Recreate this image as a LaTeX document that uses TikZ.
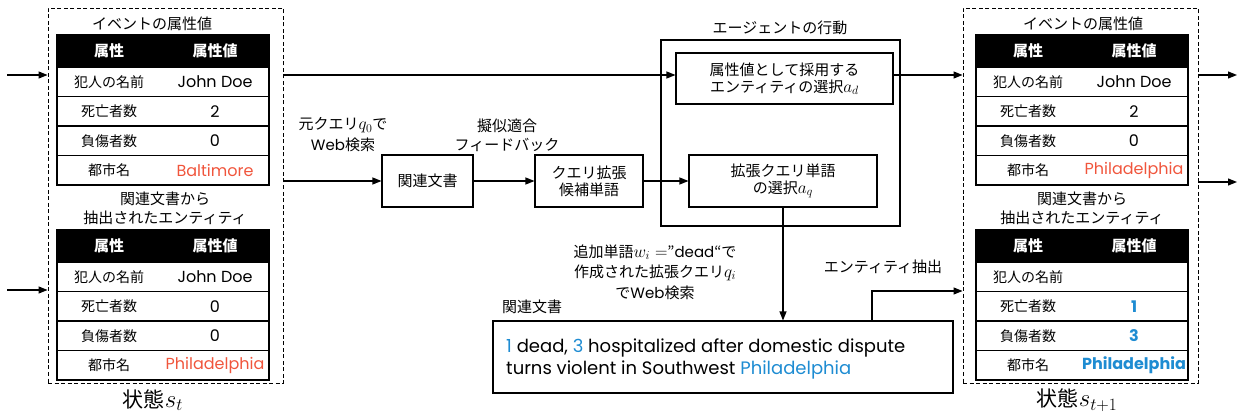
\documentclass[tikz,border=0pt]{standalone}
\usepackage{fontspec}
\setmainfont{Noto Sans CJK JP}
\newfontfamily\lat{Poppins}
\usetikzlibrary{arrows.meta}
\definecolor{vred}{RGB}{240,85,60}
\definecolor{vblue}{RGB}{30,140,210}
\newcommand\fsz[1]{\fontsize{#1}{#1}\selectfont}
\newcommand\mth[1]{{\fontsize{18}{18}\selectfont$#1$}}
\newcommand\mktab[7]{%
 \begin{scope}[shift={(#2,#3)}]
  \node[thead] (#1h) at (106,16) {};
  \node[htxt] (#1hk) at (52,16) {属性};
  \node[htxt] (#1hv) at (158,16) {属性値};
  \node[trow] (#1a) at (106,46.75) {};
  \node[trow] (#1b) at (106,76.25) {};
  \node[trow] (#1c) at (106,105.75) {};
  \node[trow] (#1d) at (106,135.25) {};
  \node[ttxt] (#1ak) at (52,46.75) {犯人の名前};
  \node[ttxt] (#1bk) at (52,76.25) {死亡者数};
  \node[ttxt] (#1ck) at (52,105.75) {負傷者数};
  \node[ttxt] (#1dk) at (52,135.25) {都市名};
  \node[vtxt] (#1av) at (158,46.75) {#4};
  \node[vtxt] (#1bv) at (158,76.25) {#5};
  \node[vtxt] (#1cv) at (158,105.75) {#6};
  \node[vtxt] (#1dv) at (158,135.25) {#7};
 \end{scope}}
\begin{document}
\begin{tikzpicture}[x=1pt,y=-1pt,
  thead/.style={draw=black,fill=black,line width=1.2pt,minimum width=212pt,minimum height=32pt,inner sep=0},
  trow/.style={draw=black,line width=1.2pt,minimum width=212pt,minimum height=29.5pt,inner sep=0},
  htxt/.style={text=white,font=\fsz{15}\bfseries,inner sep=0},
  ttxt/.style={font=\fsz{14},inner sep=0},
  vtxt/.style={font=\fsz{16}\lat,inner sep=0},
  lbl/.style={font=\fsz{15},align=center,inner sep=0},
  box/.style={draw,line width=1.1pt,inner sep=0,align=center,font=\fsz{15}},
  dbox/.style={draw,line width=0.9pt,dash pattern=on 4pt off 2.5pt,inner sep=0},
  arr/.style={-{Triangle[length=9pt,width=7pt]},line width=1.1pt}]
\useasboundingbox (0,0) rectangle (1242,414);
% state boxes
\node[dbox,minimum width=235pt,minimum height=375pt] (lbox) at (165.5,195.5) {};
\node[dbox,minimum width=235pt,minimum height=375pt] (rbox) at (1080.5,195.5) {};
\node[lbl] (lt1) at (152,24) {イベントの属性値};
\node[lbl] (rt1) at (1083,24) {イベントの属性値};
\node[lbl] (lt2) at (165,208) {関連文書から\\[4pt]抽出されたエンティティ};
\node[lbl] (rt2) at (1082,208) {関連文書から\\[4pt]抽出されたエンティティ};
\mktab{lta}{57}{35}{John Doe}{2}{0}{\textcolor{vred}{Baltimore}}
\mktab{ltb}{57}{230}{John Doe}{0}{0}{\textcolor{vred}{Philadelphia}}
\mktab{rta}{976}{35}{John Doe}{2}{0}{\textcolor{vred}{Philadelphia}}
\mktab{rtb}{976}{230}{}{\textcolor{vblue}{\bfseries 1}}{\textcolor{vblue}{\bfseries 3}}{\textcolor{vblue}{\bfseries Philadelphia}}
\node[font=\fsz{21},inner sep=0] (ls) at (153,400) {状態{\fontsize{24}{24}\selectfont$s_t$}};
\node[font=\fsz{21},inner sep=0] (rs) at (1077,400) {状態{\fontsize{24}{24}\selectfont$s_{t+1}$}};
% middle boxes
\node[box,minimum width=91pt,minimum height=52pt] (rel) at (427.5,181) {関連文書};
\node[box,minimum width=108pt,minimum height=52pt] (cand) at (589,181) {クエリ拡張\\[2pt]候補単語};
\node[draw,line width=1.1pt,minimum width=239pt,minimum height=186pt,inner sep=0] (agent) at (780.5,133) {};
\node[lbl] (agt) at (780,28) {エージェントの行動};
\node[box,minimum width=217pt,minimum height=51pt] (ad) at (784.5,78.5) {属性値として採用する\\[2pt]エンティティの選択\mth{a_d}};
\node[box,minimum width=188pt,minimum height=52pt] (aq) at (783,181) {拡張クエリ単語\\[2pt]の選択\mth{a_q}};
\node[draw,line width=1.1pt,minimum width=460pt,minimum height=72pt,inner sep=0] (doc) at (723,357) {};
\node[font=\fontsize{18}{22}\selectfont\lat,align=left,anchor=west,inner sep=0] (doct) at (506,359) {\textcolor{vblue}{1} dead, \textcolor{vblue}{3} hospitalized after domestic dispute\\turns violent in Southwest \textcolor{vblue}{Philadelphia}};
% labels
\node[lbl] (l1) at (343,135) {元クエリ\mth{q_0}で\\[4pt]{\lat Web}検索};
\node[lbl] (l2) at (507,135) {擬似適合\\[4pt]フィードバック};
\node[lbl] (l3) at (655,272) {追加単語\mth{w_i=}”{\lat dead}“で\\[4pt]作成された拡張クエリ\mth{q_i}\\[4pt]で{\lat Web}検索};
\node[lbl] (l4) at (883,267) {エンティティ抽出};
\node[lbl,anchor=west] (l5) at (502,307) {関連文書};
% coordinates
\coordinate (y75) at (0,75);
\coordinate (y181) at (0,181);
\coordinate (y182) at (0,182);
\coordinate (y290) at (0,290);
\coordinate (y291) at (0,291);
\coordinate (x872) at (872,0);
\coordinate (in1) at (7,75);
\coordinate (in2) at (7,290);
\coordinate (out1) at (1237,75);
\coordinate (out2) at (1237,182);
% connectors
\draw[arr] (in1) -- (lbox.west |- y75);
\draw[arr] (in2) -- (lbox.west |- y290);
\draw[arr] (lbox.east |- y75) -- (ad.west |- y75);
\draw[arr] (lbox.east |- y181) -- (rel.west);
\draw[arr] (rel.east) -- (cand.west);
\draw[arr] (cand.east) -- (aq.west);
\draw[arr] (aq.south) -- (aq.south |- doc.north);
\draw[arr] (ad.east |- y75) -- (rbox.west |- y75);
\draw[arr] (doc.north -| x872) |- (rbox.west |- y291);
\draw[arr] (rbox.east |- y75) -- (out1);
\draw[arr] (rbox.east |- y182) -- (out2);
\end{tikzpicture}
\end{document}
